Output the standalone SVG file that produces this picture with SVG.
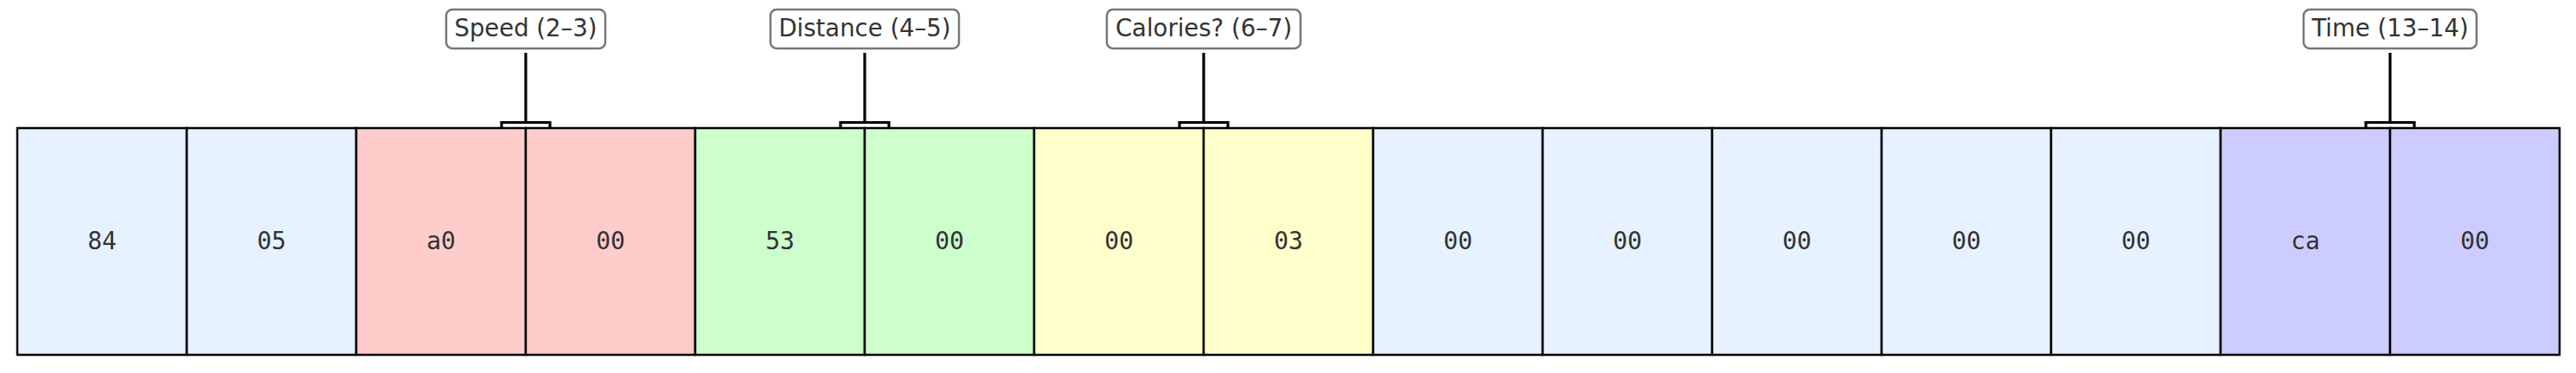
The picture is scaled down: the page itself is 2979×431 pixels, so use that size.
<svg xmlns="http://www.w3.org/2000/svg" width="2979" height="431" viewBox="0 0 2979 431">
<style>
.cell{stroke:#000;stroke-width:2.5}
.blue{fill:#e6f2ff}.red{fill:#ffcccc}.green{fill:#ccffcc}.yellow{fill:#ffffcc}.purple{fill:#ccccff}
.val{font-family:"DejaVu Sans Mono","Liberation Mono",monospace;font-size:28px;fill:#333;text-anchor:middle}
.lbox{fill:#fff;stroke:#777;stroke-width:2.5}
.ltxt{font-family:"DejaVu Sans","Liberation Sans",sans-serif;font-size:27.5px;fill:#333;text-anchor:middle}
.conn{fill:none;stroke:#000;stroke-width:3.2}
</style>
<rect width="2979" height="431" fill="#fff"/>
<g id="cell0"><rect class="cell blue" x="20" y="148" width="196" height="262"/><text class="val" x="118" y="288">84</text></g>
<g id="cell1"><rect class="cell blue" x="216" y="148" width="196" height="262"/><text class="val" x="314" y="288">05</text></g>
<g id="cell2"><rect class="cell red" x="412" y="148" width="196" height="262"/><text class="val" x="510" y="288">a0</text></g>
<g id="cell3"><rect class="cell red" x="608" y="148" width="196" height="262"/><text class="val" x="706" y="288">00</text></g>
<g id="cell4"><rect class="cell green" x="804" y="148" width="196" height="262"/><text class="val" x="902" y="288">53</text></g>
<g id="cell5"><rect class="cell green" x="1000" y="148" width="196" height="262"/><text class="val" x="1098" y="288">00</text></g>
<g id="cell6"><rect class="cell yellow" x="1196" y="148" width="196" height="262"/><text class="val" x="1294" y="288">00</text></g>
<g id="cell7"><rect class="cell yellow" x="1392" y="148" width="196" height="262"/><text class="val" x="1490" y="288">03</text></g>
<g id="cell8"><rect class="cell blue" x="1588" y="148" width="196" height="262"/><text class="val" x="1686" y="288">00</text></g>
<g id="cell9"><rect class="cell blue" x="1784" y="148" width="196" height="262"/><text class="val" x="1882" y="288">00</text></g>
<g id="cell10"><rect class="cell blue" x="1980" y="148" width="196" height="262"/><text class="val" x="2078" y="288">00</text></g>
<g id="cell11"><rect class="cell blue" x="2176" y="148" width="196" height="262"/><text class="val" x="2274" y="288">00</text></g>
<g id="cell12"><rect class="cell blue" x="2372" y="148" width="196" height="262"/><text class="val" x="2470" y="288">00</text></g>
<g id="cell13"><rect class="cell purple" x="2568" y="148" width="196" height="262"/><text class="val" x="2666" y="288">ca</text></g>
<g id="cell14"><rect class="cell purple" x="2764" y="148" width="196" height="262"/><text class="val" x="2862" y="288">00</text></g>
<g id="connectors">
<path class="conn" d="M608 61V141.5M580 148V141.5H636V148"/>
<path class="conn" d="M1000 61V141.5M972 148V141.5H1028V148"/>
<path class="conn" d="M1392 61V141.5M1364 148V141.5H1420V148"/>
<path class="conn" d="M2764 61V141.5M2736 148V141.5H2792V148"/>
</g>
<g id="label-speed"><rect class="lbox" x="516" y="11" width="184" height="45" rx="7"/><text class="ltxt" x="608" y="42">Speed (2–3)</text></g>
<g id="label-distance"><rect class="lbox" x="891" y="11" width="218" height="45" rx="7"/><text class="ltxt" x="1000" y="42">Distance (4–5)</text></g>
<g id="label-calories"><rect class="lbox" x="1280" y="11" width="224" height="45" rx="7"/><text class="ltxt" x="1392" y="42">Calories? (6–7)</text></g>
<g id="label-time"><rect class="lbox" x="2664" y="11" width="200" height="45" rx="7"/><text class="ltxt" x="2764" y="42">Time (13–14)</text></g>
</svg>
